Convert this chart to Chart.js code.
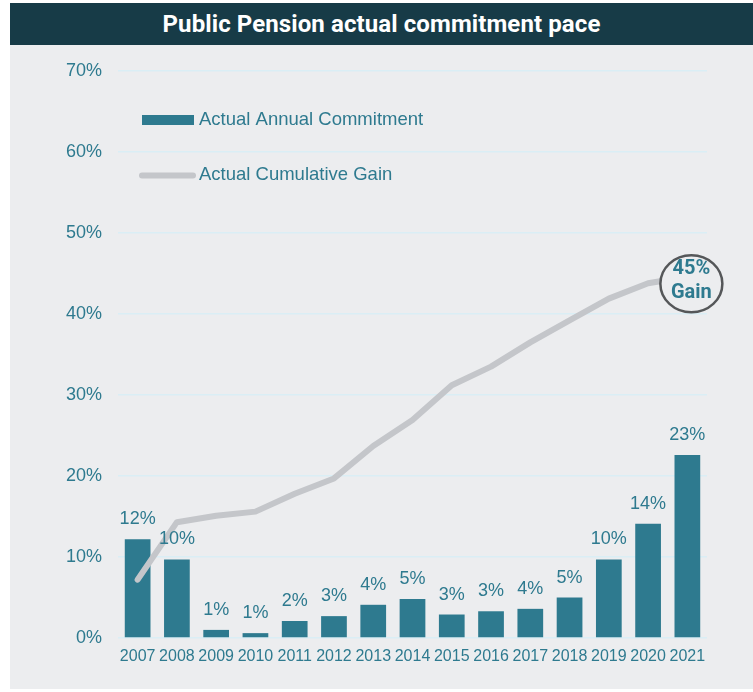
<!DOCTYPE html>
<html>
<head>
<meta charset="utf-8">
<script src="https://cdn.jsdelivr.net/npm/chart.js@4/dist/chart.umd.min.js"></script>
<style>
  html, body { margin: 0; padding: 0; background: #ffffff; }
  #panel { position: absolute; left: 10px; top: 45px; width: 743px; height: 644px; background: #ECEDEF; }
  #title { position: absolute; left: 10px; top: 3px; width: 743px; height: 42px; background: #173B47;
           color: #ffffff; font-family: Roboto, "Liberation Sans", sans-serif; font-weight: 700; font-size: 24px;
           line-height: 42px; text-align: center; letter-spacing: 0.1px; }
  #wrap { position: absolute; left: 0; top: 0; width: 753px; height: 692px; }
</style>
</head>
<body>
<div id="panel"></div>
<div id="title">Public Pension actual commitment pace</div>
<div id="wrap"><canvas id="c" width="753" height="692"></canvas></div>
<script>
const years = ['2007','2008','2009','2010','2011','2012','2013','2014','2015','2016','2017','2018','2019','2020','2021'];
const annualCommitment = [12.2, 9.7, 1.0, 0.6, 2.1, 2.7, 4.1, 4.8, 2.9, 3.3, 3.6, 5.0, 9.7, 14.1, 22.6];
const cumulativeGain = [7.2, 14.3, 15.1, 15.6, 17.8, 19.7, 23.7, 26.9, 31.2, 33.5, 36.5, 39.2, 41.9, 43.8, 44.6];
const yTicks = [0, 10, 20, 30, 40, 50, 60, 70];
const seriesNames = ['Actual Annual Commitment', 'Actual Cumulative Gain'];
const calloutText = ['45%', 'Gain'];

const TEAL = '#2E7A8F';
const LINEGRAY = '#C4C6CA';
const BG = '#ECEDEF';

const overlay = {
  id: 'overlay',
  afterDatasetsDraw(chart) {
    const ctx = chart.ctx;
    const barMeta = chart.getDatasetMeta(0);
    const lineMeta = chart.getDatasetMeta(1);
    ctx.save();
    // callout ellipse at last line point
    const lp = lineMeta.data[lineMeta.data.length - 1];
    const cx = lp.x + 4, cy = lp.y + 7;
    ctx.beginPath();
    ctx.ellipse(cx, cy, 31, 28.5, 0, 0, Math.PI * 2);
    ctx.fillStyle = BG;
    ctx.fill();
    ctx.lineWidth = 2.5;
    ctx.strokeStyle = '#555759';
    ctx.stroke();
    ctx.fillStyle = TEAL;
    ctx.font = '700 20px Roboto, "Liberation Sans", sans-serif';
    ctx.textAlign = 'center';
    ctx.textBaseline = 'alphabetic';
    ctx.fillText(calloutText[0], cx, cy - 9.5);
    ctx.fillText(calloutText[1], cx, cy + 14.5);

    // bar value labels
    ctx.font = '18px "Liberation Sans", Arial, sans-serif';
    barMeta.data.forEach((bar, i) => {
      ctx.fillText(Math.round(annualCommitment[i]) + '%', bar.x, bar.y - 15);
    });

    // legend
    ctx.fillStyle = TEAL;
    ctx.fillRect(142, 115, 52, 10);
    ctx.beginPath();
    ctx.lineCap = 'round';
    ctx.lineWidth = 6;
    ctx.strokeStyle = LINEGRAY;
    ctx.moveTo(142, 175.5);
    ctx.lineTo(193, 175.5);
    ctx.stroke();
    ctx.textAlign = 'left';
    ctx.textBaseline = 'middle';
    ctx.font = '18.5px "Liberation Sans", Arial, sans-serif';
    ctx.fillStyle = TEAL;
    ctx.fillText(seriesNames[0], 199, 120);
    ctx.fillText(seriesNames[1], 199, 175);
    ctx.restore();
  }
};

new Chart(document.getElementById('c'), {
  data: {
    labels: years,
    datasets: [
      {
        type: 'bar',
        label: seriesNames[0],
        data: annualCommitment,
        backgroundColor: TEAL,
        borderWidth: 0,
        categoryPercentage: 1,
        barPercentage: 0.655,
        order: 1
      },
      {
        type: 'line',
        label: seriesNames[1],
        data: cumulativeGain,
        borderColor: LINEGRAY,
        borderWidth: 6,
        borderCapStyle: 'round',
        borderJoinStyle: 'round',
        tension: 0,
        pointRadius: 0,
        fill: false,
        order: 0
      }
    ]
  },
  options: {
    responsive: false,
    animation: false,
    devicePixelRatio: 1,
    layout: { padding: { top: 71, right: 46, bottom: 0, left: 0 } },
    plugins: { legend: { display: false }, tooltip: { enabled: false } },
    scales: {
      x: {
        grid: { display: false, drawTicks: false },
        border: { display: false },
        ticks: { color: TEAL, font: { family: '"Liberation Sans", Arial, sans-serif', size: 16 }, padding: 9, maxRotation: 0, autoSkip: false },
        afterFit(scale) { scale.height = 54; }
      },
      y: {
        min: 0, max: 70,
        afterBuildTicks(scale) { scale.ticks = yTicks.map(v => ({ value: v })); },
        grid: { color: '#DAEEF5', lineWidth: 1.5, drawTicks: false },
        border: { display: false },
        ticks: { color: TEAL, font: { family: '"Liberation Sans", Arial, sans-serif', size: 18 }, padding: 16,
                 callback: v => v + '%' },
        afterFit(scale) { scale.width = 118; }
      }
    }
  },
  plugins: [overlay]
});
</script>
</body>
</html>
